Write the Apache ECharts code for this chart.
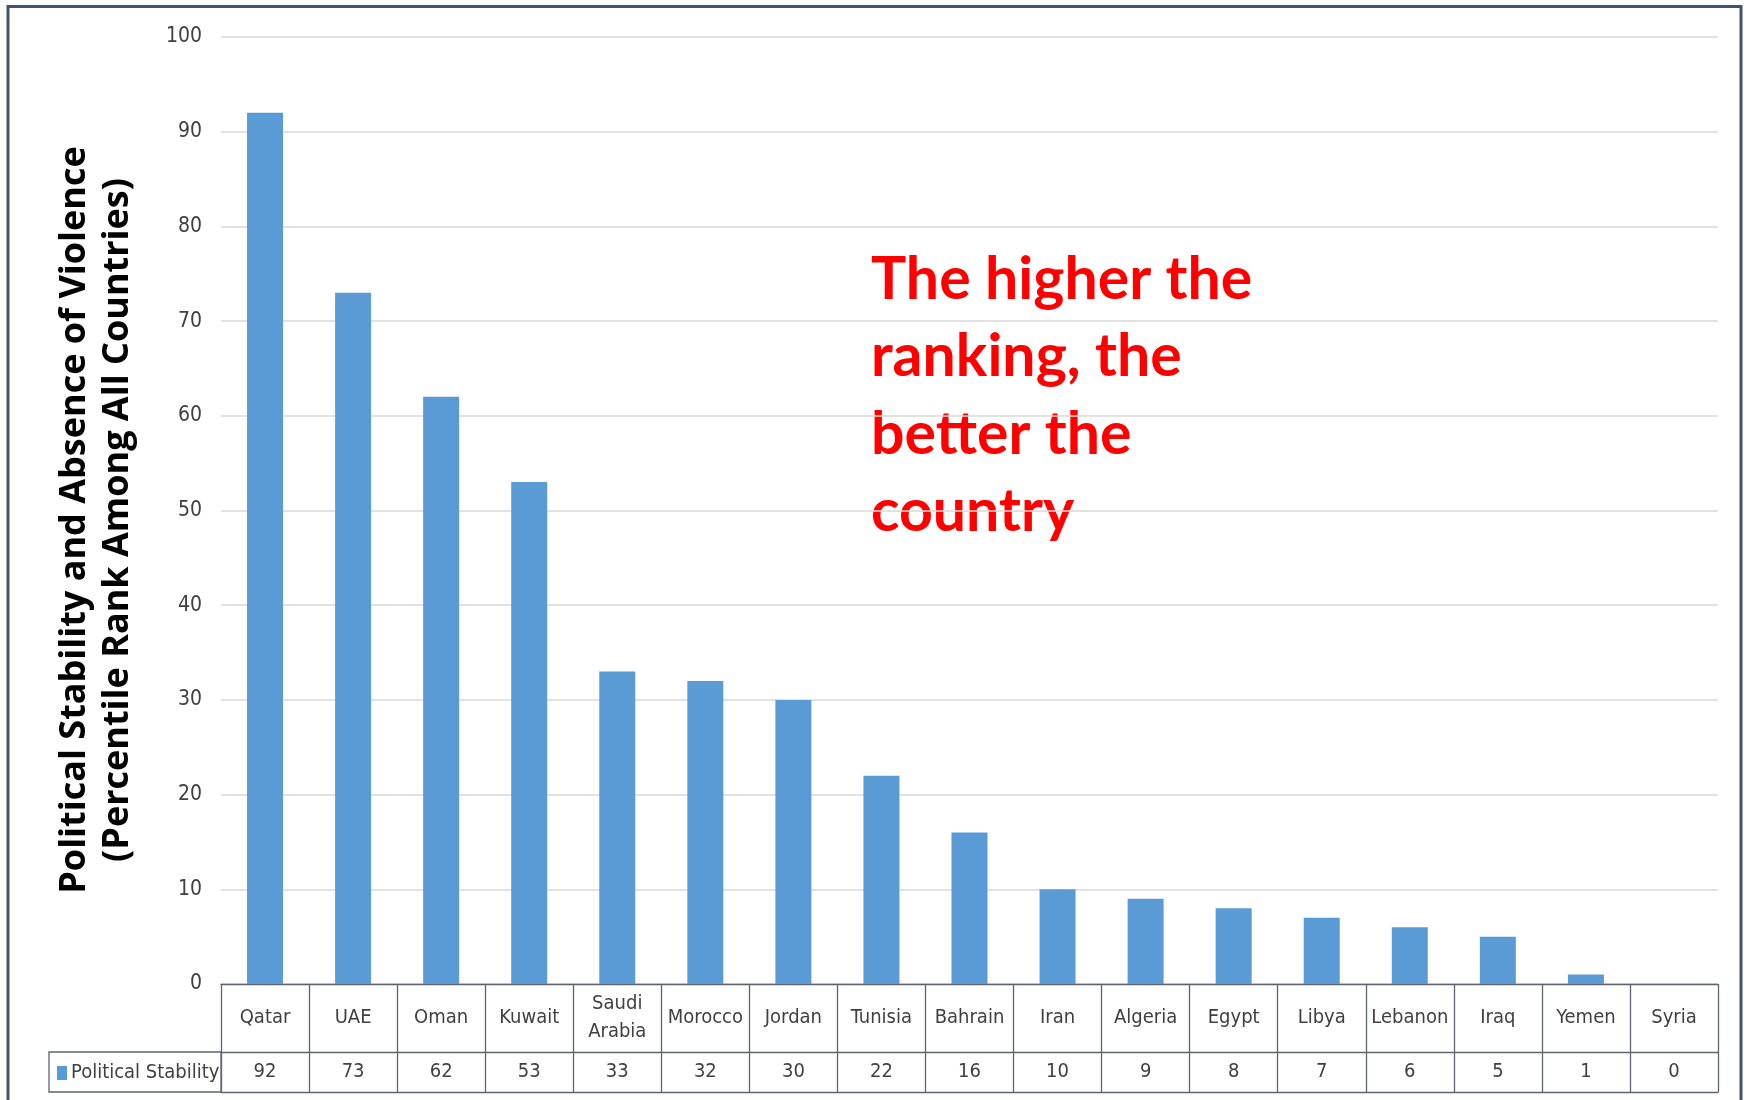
<!DOCTYPE html>
<html>
<head>
<meta charset="utf-8">
<script src="https://cdn.jsdelivr.net/npm/echarts@6/dist/echarts.min.js"></script>
<style>
    html, body { margin: 0; padding: 0; background: #fff; }
    #chart { width: 1749px; height: 1100px; }
</style>
</head>
<body>
<div id="chart"></div>
<script>
// data
const countries = ['Qatar', 'UAE', 'Oman', 'Kuwait', 'Saudi\nArabia', 'Morocco', 'Jordan', 'Tunisia', 'Bahrain',
    'Iran', 'Algeria', 'Egypt', 'Libya', 'Lebanon', 'Iraq', 'Yemen', 'Syria']
const stability = [92, 73, 62, 53, 33, 32, 30, 22, 16, 10, 9, 8, 7, 6, 5, 1, 0]
const seriesName = 'Political Stability'
const yTitle = ['Political Stability and Absence of Violence', '(Percentile Rank Among All Countries)']
const note = ['The higher the', 'ranking, the', 'better the', 'country']

const narrow = "'Liberation Sans Narrow', 'DejaVu Sans Condensed', sans-serif"
const tableLine = '#5f6470'
const barColor = '#5b9bd5'

let myChart = echarts.init(document.getElementById('chart'))

let option = {
    backgroundColor: '#fff',
    animation: false,
    grid: { left: 221, right: 31, top: 37, bottom: 116 },
    legend: {
        data: [seriesName],
        left: 52,
        top: 1058,
        icon: 'rect',
        itemWidth: 10,
        itemHeight: 14,
        itemGap: 5,
        textStyle: { fontFamily: narrow, fontSize: 20, color: '#404040', padding: [0, 0, 0, -1] }
    },
    xAxis: [
        {
            // category row + vertical cell lines
            type: 'category',
            data: countries,
            axisLine: { show: true, lineStyle: { color: tableLine, width: 1.3 } },
            axisTick: { show: true, length: 108, interval: 0, lineStyle: { color: tableLine, width: 1.3 } },
            axisLabel: {
                interval: 0, margin: 34, verticalAlign: 'middle', lineHeight: 28,
                fontFamily: narrow, fontSize: 20, color: '#404040'
            },
            splitLine: { show: false }
        },
        {
            // value row
            type: 'category',
            data: stability.map(String),
            position: 'bottom',
            offset: 68,
            axisLine: { show: true, lineStyle: { color: tableLine, width: 1.3 } },
            axisTick: { show: false },
            axisLabel: {
                interval: 0, margin: 20, verticalAlign: 'middle',
                fontFamily: narrow, fontSize: 20, color: '#404040'
            }
        },
        {
            // table bottom line
            type: 'category',
            data: countries,
            position: 'bottom',
            offset: 108,
            axisLine: { show: true, lineStyle: { color: tableLine, width: 1.3 } },
            axisTick: { show: false },
            axisLabel: { show: false }
        }
    ],
    yAxis: {
        type: 'value',
        min: 0,
        max: 100,
        interval: 10,
        axisLine: { show: false },
        axisTick: { show: false },
        splitLine: { lineStyle: { color: '#d9d9d9', width: 1.5 } },
        axisLabel: { margin: 19, fontFamily: narrow, fontSize: 21, color: '#404040' }
    },
    series: [
        {
            name: seriesName,
            type: 'bar',
            data: stability,
            barWidth: 36,
            itemStyle: { color: barColor }
        }
    ],
    graphic: [
        {
            // outer frame
            type: 'rect',
            shape: { x: 8, y: 6.5, width: 1733, height: 1200 },
            style: { fill: 'none', stroke: '#44546a', lineWidth: 3 },
            silent: true
        },
        {
            // legend cell of the data table
            type: 'rect',
            shape: { x: 49, y: 1052, width: 172, height: 40 },
            style: { fill: 'none', stroke: tableLine, lineWidth: 1.3 },
            silent: true
        },
        {
            type: 'text',
            x: 96,
            y: 520,
            rotation: Math.PI / 2,
            style: {
                text: yTitle.join('\n'),
                align: 'center',
                verticalAlign: 'middle',
                lineHeight: 43,
                font: "bold 36px 'Open Sans', sans-serif",
                fill: '#000'
            }
        },
        {
            type: 'text',
            x: 871,
            y: 241,
            style: {
                text: note.join('\n'),
                align: 'left',
                verticalAlign: 'top',
                lineHeight: 77.5,
                font: "bold 59px Lato, 'Open Sans', sans-serif",
                fill: '#ff0000'
            }
        }
    ]
}

option && myChart.setOption(option)
window.addEventListener('resize', function () {
    myChart.resize()
})
</script>
</body>
</html>
